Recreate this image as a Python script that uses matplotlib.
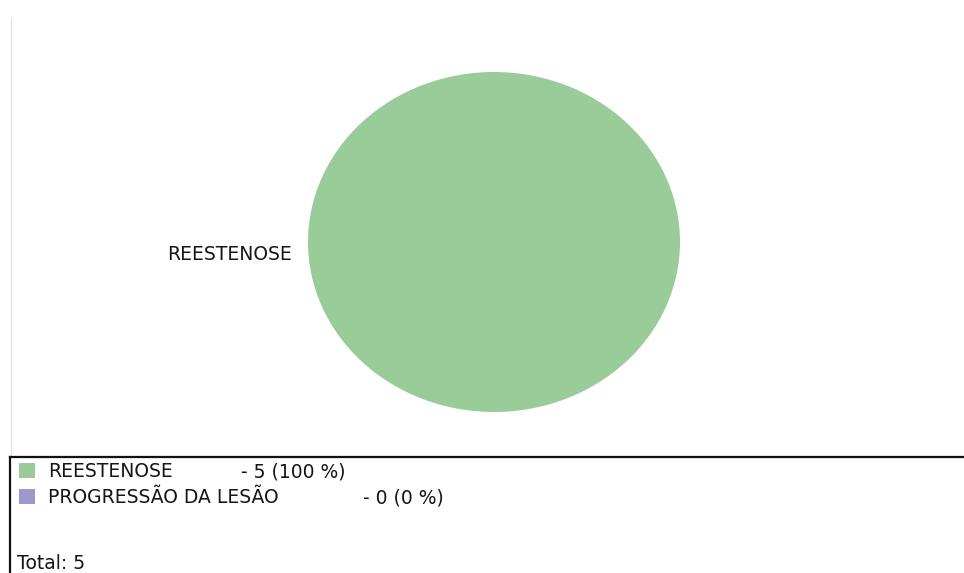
import matplotlib
matplotlib.use("Agg")
import matplotlib.pyplot as plt
from matplotlib.patches import Rectangle
from matplotlib.lines import Line2D

# Data
categories = ["REESTENOSE", "PROGRESSÃO DA LESÃO"]
values = [5, 0]
colors = ["#99cc99", "#9999cc"]

W, H = 964, 573
fig = plt.figure(figsize=(W / 100, H / 100), dpi=100)
fig.patch.set_facecolor("white")


def fx(px):
    return px / W


def fy(py):
    return 1 - py / H


FONT = dict(family="DejaVu Sans", size=13.5, color="#151515")

# Pie area (elliptical, stretched to the axes box)
left, right, top, bottom = 308, 680, 72, 412
ax = fig.add_axes([fx(left), fy(bottom), fx(right - left), (bottom - top) / H])
total = sum(values)
pie_labels = [c if v > 0 else "" for c, v in zip(categories, values)]
wedges, texts = ax.pie(values, colors=colors, labels=pie_labels, startangle=4,
                       labeldistance=1.09, radius=1.0,
                       wedgeprops=dict(linewidth=0),
                       textprops=FONT)
for t in texts:
    t.set_va("center")
ax.set_aspect("auto")
ax.set_xlim(-1, 1)
ax.set_ylim(-1, 1)

# Frame lines
fig.add_artist(Line2D([fx(11), fx(11)], [fy(18), fy(456)], color="#e4e4e4", lw=1))
fig.add_artist(Line2D([fx(10), fx(964)], [fy(457), fy(457)], color="#111111", lw=1.6))
fig.add_artist(Line2D([fx(10), fx(10)], [fy(457), fy(573)], color="#111111", lw=1.6))

# Legend rows (text placed on baselines)
row_base = [477, 503]
value_x = [241, 363]
for i, (cat, val, col) in enumerate(zip(categories, values, colors)):
    b = row_base[i]
    fig.add_artist(Rectangle((fx(19), fy(b + 1)), fx(16), 15 / H,
                             facecolor=col, edgecolor="none",
                             transform=fig.transFigure))
    fig.text(fx(48), fy(b), cat, ha="left", va="baseline", **FONT)
    pct = round(100 * val / total) if total else 0
    fig.text(fx(value_x[i]), fy(b), f"- {val} ({pct} %)", ha="left", va="baseline", **FONT)

fig.text(fx(17), fy(569), f"Total: {total}", ha="left", va="baseline", **FONT)

fig.savefig("out.png", dpi=100)
